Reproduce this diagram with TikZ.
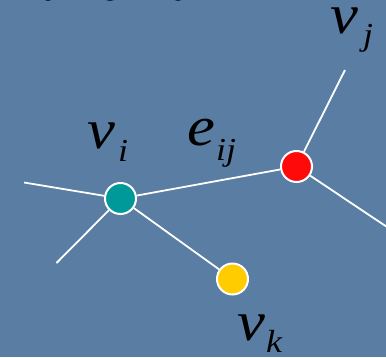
\documentclass[tikz,border=0pt]{standalone}
\usepackage{fontspec}
\setmainfont{Liberation Serif}
\newfontfamily\eqfont[FakeStretch=1.12]{Liberation Serif}
\usetikzlibrary{positioning}

\definecolor{slide}{RGB}{90,125,163}
\definecolor{tealv}{RGB}{0,153,153}
\definecolor{redv}{RGB}{255,10,10}
\definecolor{yellowv}{RGB}{255,204,0}

\newcommand{\bigv}{\eqfont\fontsize{56}{60}\selectfont\itshape}
\newcommand{\subv}{\eqfont\fontsize{32}{36}\selectfont\itshape}

\begin{document}
\begin{tikzpicture}[x=1pt, y=-1pt,
    vertex/.style={circle, draw=white, line width=2pt, minimum size=31pt, inner sep=0pt},
    edge/.style={white, line width=1.8pt},
    lbl/.style={anchor=base west, inner sep=0pt, text=black}
]
\fill[slide] (0,0) rectangle (386,357);
\useasboundingbox (0,0) rectangle (386,357);
\clip (0,0) rectangle (386,357);

% cut-off title glyphs at the top edge
\draw[black, line width=2.5pt] (48,-9.5) ellipse (8 and 9);
\draw[black, line width=2.5pt] (110,-9.5) ellipse (10 and 9);
\draw[black, line width=2.5pt] (178,-9.5) ellipse (8 and 9);

% vertices
\node[vertex, fill=tealv] (vi) at (120.5,198.5) {};
\node[vertex, fill=redv] (vj) at (296.5,166.5) {};
\node[vertex, fill=yellowv] (vk) at (232.5,279) {};

% free ends
\coordinate (wl) at (24,182.5);
\coordinate (sw) at (56.5,263);
\coordinate (nj) at (345,70);
\coordinate (se) at (390,229);

\draw[edge] (vi) -- (wl);
\draw[edge] (vi) -- (sw);
\draw[edge] (vi) -- (vj);
\draw[edge] (vi) -- (vk);
\draw[edge] (vj) -- (nj);
\draw[edge] (vj) -- (se);

% labels
\node[lbl] (li) at (87,148) {\bigv v\hspace{3pt}\raisebox{-13pt}{\subv i}};
\node[lbl] (le) at (187,145) {\bigv e\hspace{1pt}\raisebox{-15pt}{\subv ij}};
\node[lbl] (lj) at (330,33) {\bigv v\hspace{5pt}\raisebox{-12pt}{\subv j}};
\node[lbl] (lk) at (237,340) {\bigv v\hspace{1pt}\raisebox{-12pt}{\subv k}};
\end{tikzpicture}
\end{document}
